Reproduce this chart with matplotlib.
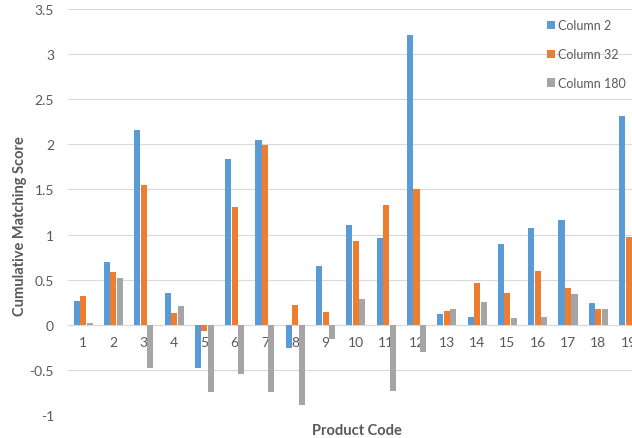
import matplotlib
matplotlib.use('Agg')

import matplotlib.pyplot as plt
import numpy as np

plt.rcParams['font.family'] = ['Lato', 'DejaVu Sans']

# values (column 180 of product 19 is cut off in the original)
products = [str(i) for i in range(1, 20)]
column_2 = [0.26, 0.69, 2.16, 0.35, -0.48, 1.84, 2.05, -0.26, 0.65, 1.11,
            0.96, 3.21, 0.12, 0.085, 0.90, 1.07, 1.16, 0.24, 2.31]
column_32 = [0.32, 0.58, 1.55, 0.13, -0.07, 1.31, 1.99, 0.22, 0.14, 0.93,
             1.33, 1.50, 0.155, 0.465, 0.35, 0.60, 0.41, 0.18, 0.97]
column_180 = [0.02, 0.52, -0.48, 0.21, -0.74, -0.55, -0.75, -0.89, -0.16, 0.29,
              -0.73, -0.30, 0.17, 0.255, 0.07, 0.085, 0.34, 0.18, np.nan]
series_names = ['Column 2', 'Column 32', 'Column 180']
colors = ['#5B9BD5', '#ED7D31', '#A5A5A5']
text_color = '#595959'

fig = plt.figure(figsize=(6.32, 4.39), dpi=100)
# plot area runs past the right edge, as in the cropped original
ax = fig.add_axes([0.1076, 0.0524, 0.911, 0.925])

x = np.arange(1, len(products) + 1)
width = 0.2
step = 0.214
for i, (vals, name) in enumerate(zip([column_2, column_32, column_180], series_names)):
    ax.bar(x + (i - 1) * step, vals, width, color=colors[i], label=name, zorder=3)

ax.set_xlim(0.5, 19.5)
ax.set_ylim(-1, 3.5)
ax.set_yticks(np.arange(-1, 3.51, 0.5))
ax.set_yticklabels(['-1', '-0.5', '0', '0.5', '1', '1.5', '2', '2.5', '3', '3.5'])
ax.set_xticks(x)
ax.set_xticklabels(products)

ax.grid(axis='y', color='#D9D9D9', linewidth=0.8, zorder=0)
for s in ['top', 'right', 'left']:
    ax.spines[s].set_visible(False)
ax.spines['bottom'].set_position(('data', 0))
ax.spines['bottom'].set_color('#D9D9D9')
ax.spines['bottom'].set_zorder(2)
ax.tick_params(axis='both', length=0, labelsize=10, colors=text_color)
ax.tick_params(axis='x', pad=8)
ax.tick_params(axis='y', pad=10)

fig.text(0.5655, 0.002, 'Product Code', ha='center', va='bottom',
         fontsize=10.5, fontweight='bold', color=text_color)
fig.text(0.02, 0.485, 'Cumulative Matching Score', ha='left', va='center',
         rotation=90, fontsize=10.5, fontweight='bold', color=text_color)

leg = ax.legend(loc='upper left', bbox_to_anchor=(0.855, 0.968),
                bbox_transform=fig.transFigure, frameon=False, fontsize=9,
                handlelength=0.65, handleheight=0.65, handletextpad=0.3,
                labelspacing=1.35, borderpad=0)
for t in leg.get_texts():
    t.set_color(text_color)

fig.savefig('out.png', dpi=100)
plt.close('all')
